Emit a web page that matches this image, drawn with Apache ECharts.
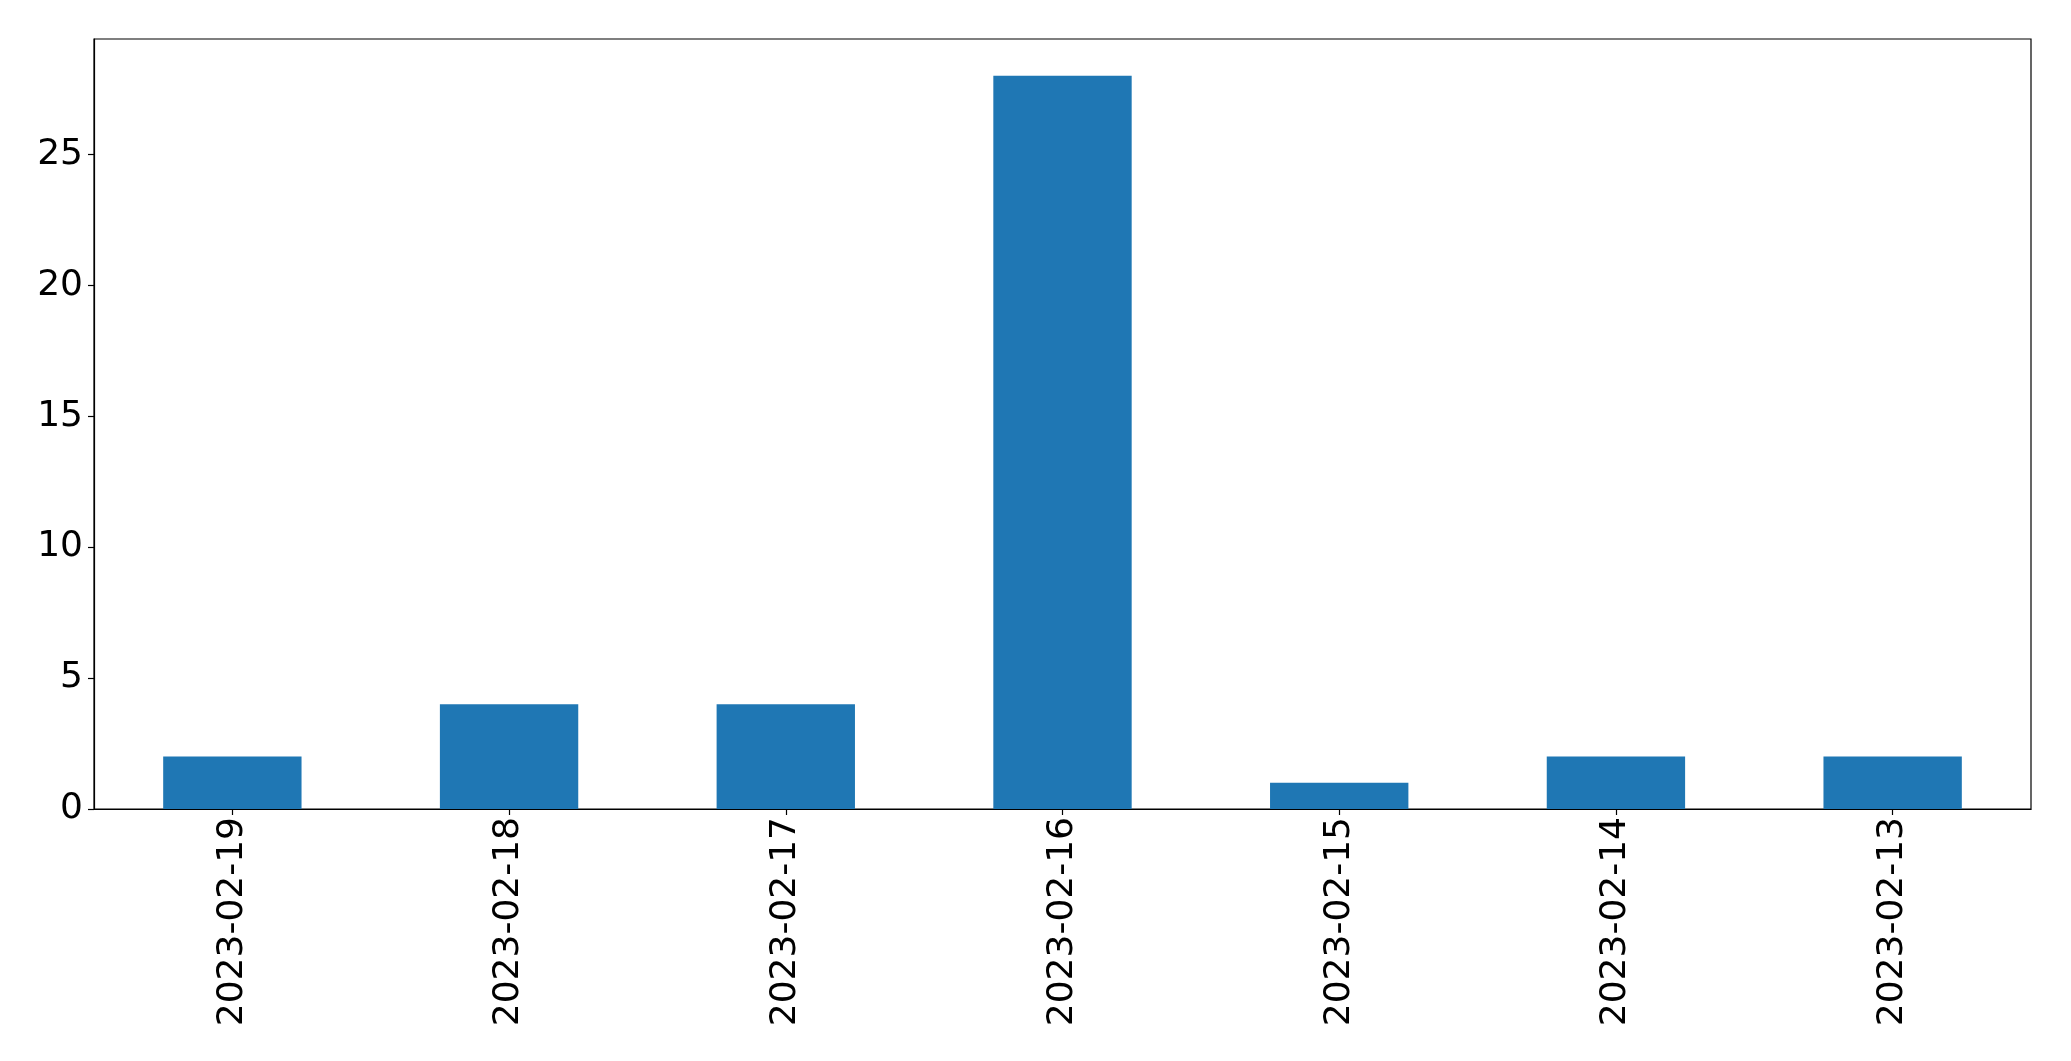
<!DOCTYPE html>
<html>
<head>
<meta charset="utf-8">
<script src="https://cdn.jsdelivr.net/npm/echarts@6/dist/echarts.min.js"></script>
<style>
html,body{margin:0;padding:0;background:#fff;}
#c{width:2071px;height:1061px;}
</style>
</head>
<body>
<div id="c"></div>
<script>
const categories = ['2023-02-19','2023-02-18','2023-02-17','2023-02-16','2023-02-15','2023-02-14','2023-02-13'];
const values = [2, 4, 4, 28, 1, 2, 2];
const yTicks = [0, 5, 10, 15, 20, 25];

const chart = echarts.init(document.getElementById('c'), null, {renderer: 'canvas'});
const font = 'DejaVu Sans';
chart.setOption({
  animation: false,
  grid: {left: 94, top: 39, right: 40, bottom: 252, show: true, borderColor: '#000', borderWidth: 1.2, backgroundColor: 'transparent'},
  xAxis: {
    type: 'category',
    data: categories,
    boundaryGap: true,
    axisLine: {show: true, lineStyle: {color: '#000', width: 1.2}},
    axisTick: {show: true, alignWithLabel: true, length: 6, lineStyle: {color: '#000', width: 1.2}},
    axisLabel: {rotate: 90, fontFamily: font, fontSize: 36, color: '#000', margin: 8, interval: 0}
  },
  yAxis: {
    type: 'value',
    min: 0,
    max: 29.4,
    interval: 5,
    splitLine: {show: false},
    axisLine: {show: true, lineStyle: {color: '#000', width: 1.2}},
    axisTick: {show: true, length: 6, lineStyle: {color: '#000', width: 1.2}},
    axisLabel: {
      fontFamily: font, fontSize: 36, color: '#000', margin: 11,
      showMaxLabel: false,
      formatter: function (v) { return yTicks.indexOf(v) >= 0 ? String(v) : ''; }
    }
  },
  series: [{
    type: 'bar',
    data: values,
    barWidth: '50%',
    itemStyle: {color: '#1f77b4'}
  }]
});
</script>
</body>
</html>
